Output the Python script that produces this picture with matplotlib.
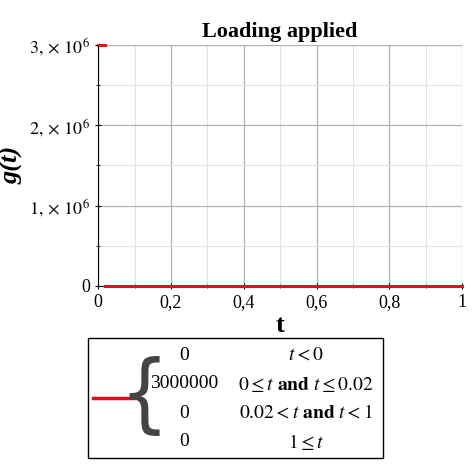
import matplotlib.pyplot as plt
from matplotlib.patches import Rectangle

plt.rcParams['font.family'] = ['Liberation Serif', 'DejaVu Serif']
plt.rcParams['mathtext.fontset'] = 'stix'

# piecewise load: value on each interval
seg_t = [[0, 0.02], [0.02, 1]]
seg_g = [[3000000, 3000000], [0, 0]]
piece_vals = ["0", "3000000", "0", "0"]
piece_conds = [r"$t<0$", r"$0\leq t$ $\mathbf{and}$ $t\leq 0.02$",
               r"$0.02<t$ $\mathbf{and}$ $t<1$", r"$1\leq t$"]
xticks = [0, 0.2, 0.4, 0.6, 0.8, 1]
xlabels = ["0", "0,2", "0,4", "0,6", "0,8", "1"]
yticks = [0, 1e6, 2e6, 3e6]
ylabels = ["0", r"$1,\times\,10^6$", r"$2,\times\,10^6$", r"$3,\times\,10^6$"]

fig = plt.figure(figsize=(4.74, 4.74), dpi=100)
ax = fig.add_axes([0.207, 0.397, 0.768, 0.508])
for t, g in zip(seg_t, seg_g):
    ax.plot(t, g, color="#e0101a", lw=2.2, zorder=3, clip_on=False)
ax.set_xlim(0, 1)
ax.set_ylim(0, 3e6)
ax.set_xticks(xticks)
ax.set_xticklabels(xlabels, fontsize=13)
ax.set_yticks(yticks)
ax.set_yticklabels(ylabels, fontsize=13)
ax.set_xticks([i / 10 for i in range(11)], minor=True)
ax.set_yticks([0.5e6, 1.5e6, 2.5e6], minor=True)
ax.grid(True, which="major", color="#b0b0b0", lw=0.9)
ax.grid(True, which="minor", color="#e3e3e3", lw=0.8)
ax.spines["top"].set_visible(False)
ax.spines["right"].set_visible(False)
ax.tick_params(direction="inout", length=5, width=0.8)
ax.tick_params(which="minor", direction="inout", length=3)
ax.set_title("Loading applied", fontsize=16, fontweight="bold", pad=6)
ax.set_xlabel("t", fontsize=19, fontweight="bold", labelpad=2)
ax.set_ylabel("g(t)", fontsize=19, fontweight="bold", fontstyle="italic", labelpad=4)

# legend box
fig.patches.append(Rectangle((88 / 474, 1 - 458 / 474), 295 / 474, 120 / 474,
                             transform=fig.transFigure, fill=False, ec="black", lw=1))
fig.lines.append(plt.Line2D([93 / 474, 133 / 474], [1 - 398 / 474] * 2,
                            transform=fig.transFigure, color="#e0101a", lw=2.5))
fig.text(144 / 474, 1 - 398 / 474, "{", fontsize=62, va="center", ha="center",
         color="#444444", family="DejaVu Sans", fontweight="ultralight",
         fontstretch="condensed")
rows_y = [355, 384, 413, 442]
for v, c, y in zip(piece_vals, piece_conds, rows_y):
    fig.text(184 / 474, 1 - y / 474, v, fontsize=14, ha="center", va="center")
    fig.text(306 / 474, 1 - y / 474, c, fontsize=14, ha="center", va="center")

fig.savefig("out.png", dpi=100)
